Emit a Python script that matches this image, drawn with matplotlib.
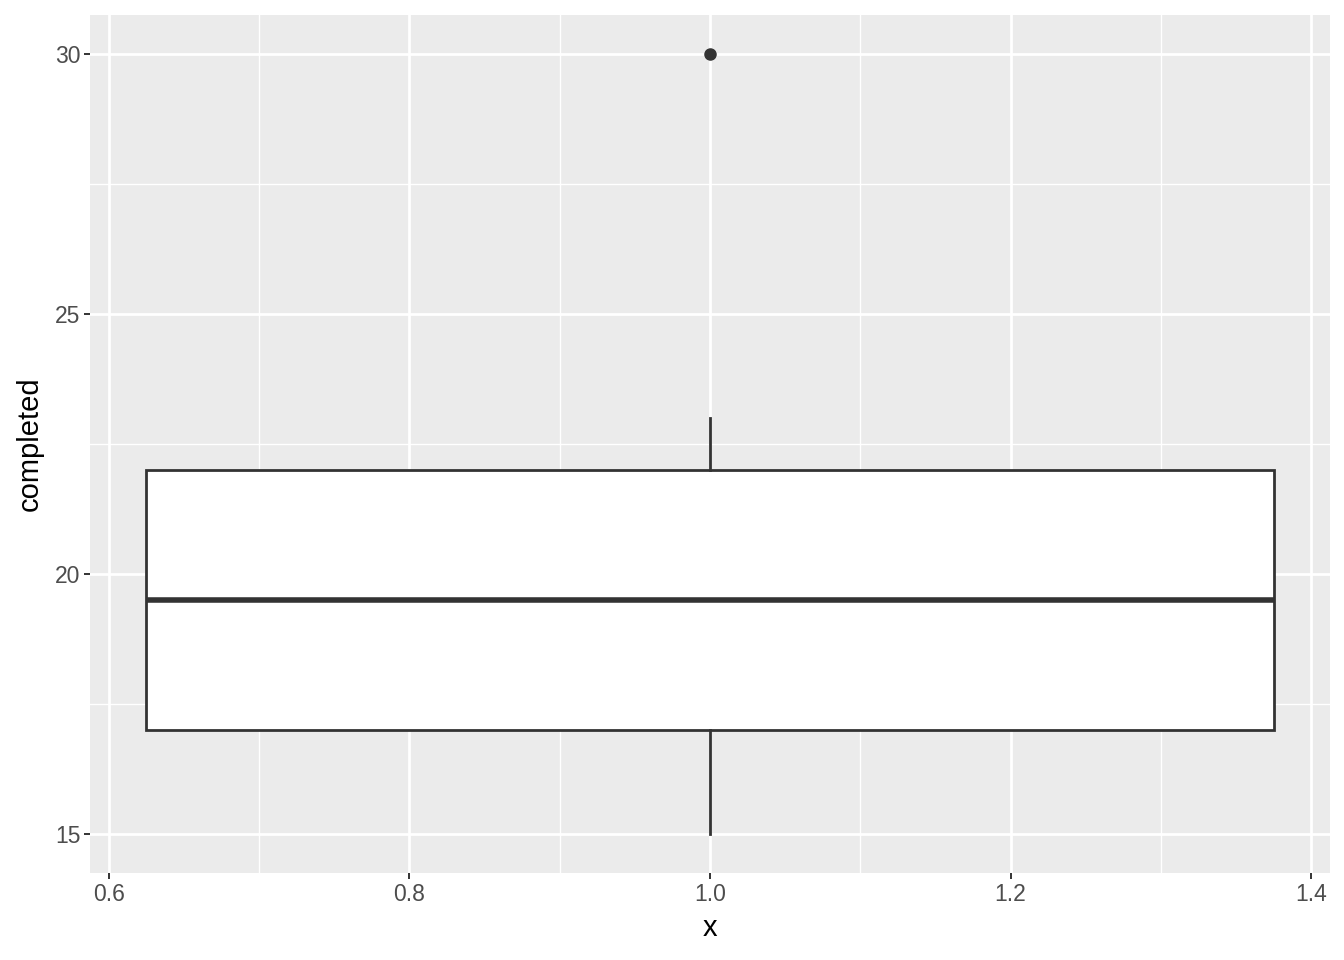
import matplotlib
matplotlib.use("Agg")
import matplotlib.pyplot as plt
from matplotlib.ticker import FixedLocator

# data (summary statistics)
group_x = [1.0]
q1 = [17.0]
median = [19.5]
q3 = [22.0]
whisker_low = [15.0]
whisker_high = [23.0]
outliers = [[30.0]]
box_width = 0.75

xticks = [0.6, 0.8, 1.0, 1.2, 1.4]
xtick_labels = ["0.6", "0.8", "1.0", "1.2", "1.4"]
yticks = [15, 20, 25, 30]
ytick_labels = ["15", "20", "25", "30"]

plt.rcParams['font.family'] = ['Liberation Sans', 'DejaVu Sans']

W, H = 1344, 960
fig = plt.figure(figsize=(W / 100, H / 100), dpi=100)
ax = fig.add_axes([90 / W, (H - 873) / H, (1330 - 90) / W, (873 - 15) / H])
ax.set_facecolor("#EBEBEB")

stats = []
for i in range(len(group_x)):
    stats.append(dict(med=median[i], q1=q1[i], q3=q3[i], whislo=whisker_low[i],
                      whishi=whisker_high[i], fliers=outliers[i]))

ax.bxp(stats, positions=group_x, widths=box_width, patch_artist=True,
       showcaps=False, manage_ticks=False,
       boxprops=dict(facecolor="white", edgecolor="#333333", linewidth=2.0),
       medianprops=dict(color="#333333", linewidth=4.0, solid_capstyle="butt"),
       whiskerprops=dict(color="#333333", linewidth=2.0),
       flierprops=dict(marker="o", markerfacecolor="#333333", markeredgecolor="#333333",
                       markersize=8, linestyle="none"),
       zorder=3)

ax.set_xlim(0.5875, 1.4125)
ax.set_ylim(14.25, 30.75)

ax.set_xticks(xticks)
ax.set_xticklabels(xtick_labels)
ax.set_yticks(yticks)
ax.set_yticklabels(ytick_labels)
ax.xaxis.set_minor_locator(FixedLocator([0.7, 0.9, 1.1, 1.3]))
ax.yaxis.set_minor_locator(FixedLocator([17.5, 22.5, 27.5]))

ax.grid(which="major", color="white", linewidth=2.0, zorder=0)
ax.grid(which="minor", color="white", linewidth=1.0, zorder=0)
ax.set_axisbelow(True)

for s in ax.spines.values():
    s.set_visible(False)

ax.tick_params(which="major", length=4, width=1.4, color="#333333",
               labelsize=16.5, labelcolor="#4D4D4D", pad=3)
ax.tick_params(which="minor", length=0)

ax.set_xlabel("x", fontsize=21, color="black", labelpad=6)
ax.set_ylabel("completed", fontsize=21, color="black", labelpad=8)

fig.savefig("out.png", dpi=100, facecolor="white")
